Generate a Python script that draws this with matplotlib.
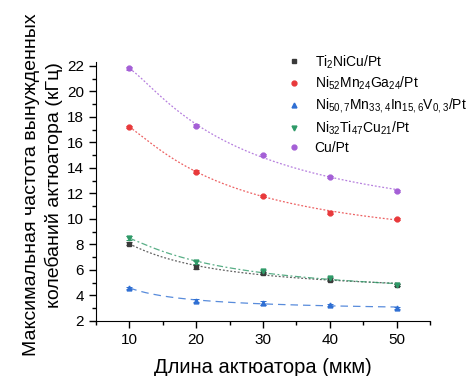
import numpy as np
import matplotlib
matplotlib.use("Agg")
import matplotlib.pyplot as plt
from matplotlib.ticker import MultipleLocator

plt.rcParams['font.family'] = ['Liberation Sans', 'DejaVu Sans']
plt.rcParams['mathtext.fontset'] = 'custom'
plt.rcParams['mathtext.rm'] = 'Liberation Sans'

# data
length = [10, 20, 30, 40, 50]
ti2nicu  = [8.05, 6.25, 5.75, 5.25, 4.85]
nimnga   = [17.2, 13.7, 11.8, 10.5, 10.0]
nimninv  = [4.6, 3.6, 3.4, 3.25, 3.02]
nitricu  = [8.5, 6.6, 5.9, 5.35, 4.8]
cupt     = [21.8, 17.3, 15.0, 13.3, 12.2]
err_ti   = [0.12, 0.15, 0.1, 0.1, 0.08]
err_nmg  = [0.1, 0.1, 0.1, 0.1, 0.1]
err_nmi  = [0.08, 0.1, 0.18, 0.08, 0.1]
err_ntc  = [0.18, 0.12, 0.12, 0.1, 0.08]
err_cu   = [0.1, 0.1, 0.1, 0.1, 0.1]

labels = [r'Ti$_\mathrm{2}$NiCu/Pt',
          r'Ni$_\mathrm{52}$Mn$_\mathrm{24}$Ga$_\mathrm{24}$/Pt',
          r'Ni$_\mathrm{50,7}$Mn$_\mathrm{33,4}$In$_\mathrm{15,6}$V$_\mathrm{0,3}$/Pt',
          r'Ni$_\mathrm{32}$Ti$_\mathrm{47}$Cu$_\mathrm{21}$/Pt',
          'Cu/Pt']
series = [ti2nicu, nimnga, nimninv, nitricu, cupt]
errs = [err_ti, err_nmg, err_nmi, err_ntc, err_cu]
colors = ['#3a3a3a', '#e8393b', '#2f6fd3', '#2f9a68', '#a45fd6']
markers = ['s', 'o', '^', 'v', 'o']
styles = [(0, (1.5, 1.5)), (0, (1.5, 1.5)), (0, (6, 4)), (0, (5, 2, 1.5, 2)), (0, (1.5, 1.5))]

fig = plt.figure(figsize=(4.69, 3.76), dpi=100)
ax = fig.add_axes([0.2047, 0.1463, 0.712, 0.689])

x = np.array(length, dtype=float)
xf = np.linspace(10, 50, 200)
handles = []
for y, e, c, m, ls, lab in zip(series, errs, colors, markers, styles, labels):
    # decay fit: y = a + b/x + c/x^2
    p = np.polyfit(1.0 / x, y, 2)
    ax.plot(xf, np.polyval(p, 1.0 / xf), color=c, lw=0.9, ls=ls, alpha=0.8)
    ax.errorbar(x, y, yerr=e, fmt=m, color=c, ms=3.5, capsize=2, elinewidth=0.7, capthick=0.7)
    h, = ax.plot([], [], m, color=c, ms=3.5, ls='none', label=lab)
    handles.append(h)

ax.set_xlim(5, 55)
ax.set_ylim(2, 22.3)
ax.xaxis.set_major_locator(MultipleLocator(10))
ax.xaxis.set_minor_locator(MultipleLocator(5))
ax.yaxis.set_major_locator(MultipleLocator(2))
ax.yaxis.set_minor_locator(MultipleLocator(1))
ax.spines['top'].set_visible(False)
ax.spines['right'].set_visible(False)
ax.tick_params(which='major', direction='out', length=5, width=1, labelsize=11)
ax.tick_params(which='minor', direction='out', length=3, width=1)

ax.set_xlabel('Длина актюатора (мкм)', fontsize=14.5, labelpad=8)
ax.set_ylabel('Максимальная частота вынужденных\nколебаний актюатора (кГц)',
              fontsize=14, labelpad=3, linespacing=1.3)
ax.yaxis.label.set_y(0.525)

ax.legend(handles=handles, loc='upper left', bbox_to_anchor=(0.551, 1.055), frameon=False,
          fontsize=10, handlelength=1.2, handletextpad=0.9, labelspacing=0.3,
          borderaxespad=0)

fig.savefig('out.png', dpi=100)
